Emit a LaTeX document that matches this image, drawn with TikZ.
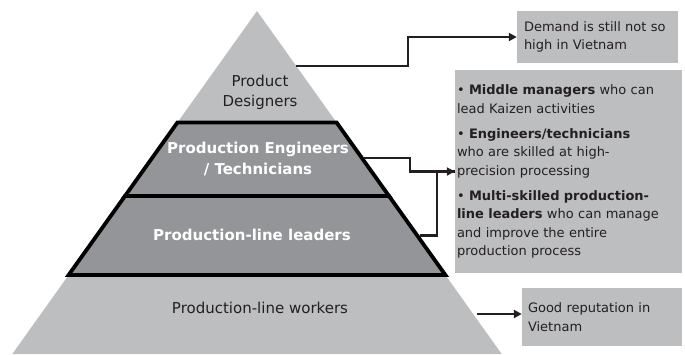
\documentclass[tikz,border=0pt]{standalone}
\usepackage{fontspec}
\setmainfont{DejaVu Sans}
\usetikzlibrary{arrows.meta}
\definecolor{lightg}{RGB}{189,190,192}
\definecolor{darkg}{RGB}{147,149,152}
\definecolor{ink}{RGB}{35,31,32}
\begin{document}
\begin{tikzpicture}[x=1pt,y=-1pt,
  conn/.style={line width=2.3pt,draw=ink,-{Triangle[length=8pt,width=8pt]}},
  plainconn/.style={line width=2.3pt,draw=ink},
  tier/.style={fill=darkg,draw=black,line width=3.8pt,line join=miter},
  pyrtext/.style={align=center,text=ink,font=\fontsize{15}{20}\selectfont,inner sep=0pt},
  boldtext/.style={align=center,text=white,font=\fontsize{15}{21.5}\selectfont\bfseries,inner sep=0pt},
  infobox/.style={fill=lightg,text=ink,align=left,font=\fontsize{13}{18.5}\selectfont,anchor=center,inner ysep=0pt}
]
\useasboundingbox (0,0) rectangle (685,354);
% pyramid
\fill[lightg] (257,11) -- (501.7,354) -- (12.3,354) -- cycle;
% tiers
\coordinate (t1l) at (177.4,122.5);
\coordinate (t1r) at (336.6,122.5);
\coordinate (m1l) at (125,196);
\coordinate (m1r) at (389,196);
\coordinate (b1l) at (68.6,275);
\coordinate (b1r) at (445.4,275);
\draw[tier] (m1l) -- (m1r) -- (b1r) -- (b1l) -- cycle;
\draw[tier] (t1l) -- (t1r) -- (m1r) -- (m1l) -- cycle;
% pyramid labels
\node[pyrtext] (designers) at (260,92) {Product\\Designers};
\node[boldtext] (engineers) at (258,159) {Production Engineers\\/ Technicians};
\node[boldtext] (leaders) at (252,235) {Production-line leaders};
\node[pyrtext] (workers) at (260,308) {Production-line workers};
% boxes
\node[infobox,minimum width=161pt,minimum height=52pt,text width=147pt,inner xsep=7pt] (demand) at (597.5,37)
  {Demand is still not so\\high in Vietnam};
\node[infobox,minimum width=227pt,minimum height=203pt,text width=223pt,inner xsep=2pt] (skills) at (568.5,171.5)
  {• \textbf{Middle managers} who can\\
   lead Kaizen activities\\[6.5pt]
   • \textbf{Engineers/technicians}\\
   who are skilled at high-\\
   precision processing\\[6.5pt]
   • \textbf{Multi-skilled production-}\\
   \textbf{line leaders} who can manage\\
   and improve the entire\\
   production process};
\node[infobox,minimum width=160pt,minimum height=58pt,text width=148pt,inner xsep=6pt] (reputation) at (602,317)
  {Good reputation in\\Vietnam};
% connectors
\coordinate (p1) at (296,66);
\coordinate (p2) at (364,158);
\coordinate (p3) at (420,235.5);
\coordinate (p4) at (477,314);
\coordinate (j1) at (408,66);
\coordinate (j2) at (410,158);
\coordinate (j3) at (437,235.5);
\draw[conn] (p1) -- (j1) |- (demand.west);
\draw[conn] (p2) -- (j2) |- (skills.west);
\draw[plainconn] (p3) -- (j3) |- (skills.west);
\draw[conn] (p4) -- (p4 -| reputation.west);
\end{tikzpicture}
\end{document}
